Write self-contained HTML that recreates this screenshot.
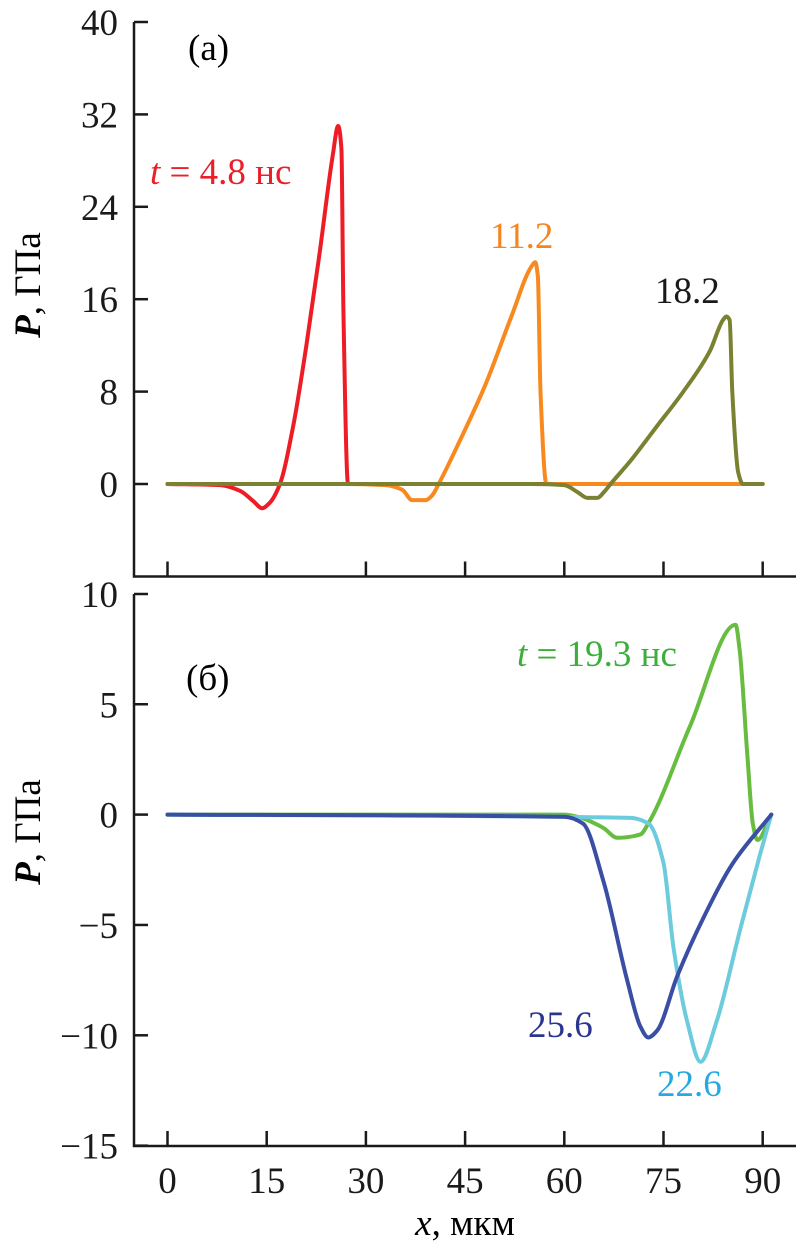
<!DOCTYPE html>
<html><head><meta charset="utf-8"><style>
body{margin:0;background:#fff;}
svg{display:block;}
text{font-family:"Liberation Serif","DejaVu Serif",serif;}
</style></head><body>
<svg id="chart" width="796" height="1245" viewBox="0 0 796 1245" font-family="Liberation Serif, DejaVu Serif, serif">
<g id="axes"></g>
<g id="series"></g>
<g id="labels" font-size="37">
<text x="188" y="60">(a)</text>
<text x="186" y="690">(б)</text>
<text x="150" y="184" fill="#e8202a"><tspan font-style="italic">t</tspan> = 4.8 нс</text>
<text x="490" y="248" fill="#f5861f">11.2</text>
<text x="655" y="303" fill="#1a1a1a">18.2</text>
<text x="517" y="666" fill="#3cae3c"><tspan font-style="italic">t</tspan> = 19.3 нс</text>
<text x="528" y="1037" fill="#2a3590">25.6</text>
<text x="657" y="1096" fill="#26a9e0">22.6</text>
<text transform="translate(40,285) rotate(-90)" text-anchor="middle"><tspan font-weight="bold" font-style="italic">P</tspan>, ГПа</text>
<text transform="translate(40,832) rotate(-90)" text-anchor="middle"><tspan font-weight="bold" font-style="italic">P</tspan>, ГПа</text>
<text x="465" y="1235" text-anchor="middle"><tspan font-style="italic">x</tspan>, мкм</text>
</g>
</svg>
<script>
const xTicks=[0,15,30,45,60,75,90];
const yTicksA=[0,8,16,24,32,40];
const yTicksB=[-15,-10,-5,0,5,10];
const xA=[0,8,11,13,14.3,15.5,17,19,21,23,25,25.8,26.3,26.6,27.3,30,50,62];
const pA48=[0,-0.1,-0.6,-1.5,-2.1,-1.6,0,5,12,20,28.5,31,29,15,0,0,0,0];
const xB=[0,27,33,35.5,37,39,40,41,44,48,52,55,55.6,56,56.4,57.3,60,90];
const pB112=[0,0,-0.1,-0.5,-1.4,-1.4,-1,0,3.5,8.5,14.5,18.8,19.2,18,8,0,0,0];
const xC=[0,55,60,62,63.5,65,66,67,70,74,78,82,84,84.5,85,85.4,86.3,87,90];
const pC182=[0,0,-0.1,-0.7,-1.2,-1.2,-0.7,0,2,5,8,11.5,14.2,14.5,14.2,8,1,0,0];
const xD=[0,60,62,65.9,68,71.5,72.7,79,85.9,86.5,87.7,88.5,89.2,91.3];
const pD193=[0,0,-0.1,-0.6,-1.05,-0.9,-0.4,4,8.6,7.5,2.6,-0.4,-1.15,0];
const xE=[0,70,72.7,75,76.5,78.6,80.6,83,86.6,89.6,91.3];
const pE226=[0,-0.15,-0.4,-2.2,-6,-9.4,-11.2,-9.4,-5.2,-1.8,0];
const xF=[0,60,62.8,65.9,69.5,71.5,72.7,74,77.1,81,85.5,91.3];
const pF256=[0,-0.1,-0.4,-3,-7.5,-9.6,-10.1,-9.8,-7.3,-4.7,-2.2,0];

const NS='http://www.w3.org/2000/svg';
const sx=v=>167.5+v*(762.7-167.5)/90;
const syA=v=>484-v*11.55;
const syB=v=>814.6-v*22.07;
const axes=document.getElementById('axes'), ser=document.getElementById('series');
function mk(tag,attrs,parent){const e=document.createElementNS(NS,tag);for(const k in attrs)e.setAttribute(k,attrs[k]);parent.appendChild(e);return e;}
let l=mk('path',{d:`M134 ${syA(40)} V576.5 H796`,fill:'none',stroke:'#1a1a1a','stroke-width':2.5},axes);


l=mk('path',{d:`M134 594 V1146 H796`,fill:'none',stroke:'#1a1a1a','stroke-width':2.5},axes);


yTicksA.forEach(v=>{
  let t=mk('line',{x1:134,x2:148,y1:syA(v),y2:syA(v),stroke:'#1a1a1a','stroke-width':2.5},axes);
  
  
  let tx=mk('text',{x:118,y:syA(v)+13,'text-anchor':'end','font-size':37,fill:'#1a1a1a'},axes);
  tx.textContent=v;
  
  
});
yTicksB.forEach(v=>{
  let y=v===10?594:syB(v);
  let t=mk('line',{x1:134,x2:148,y1:y,y2:y,stroke:'#1a1a1a','stroke-width':2.5},axes);
  
  
  let tx=mk('text',{x:118,y:y+13,'text-anchor':'end','font-size':37,fill:'#1a1a1a'},axes);
  tx.textContent=v<0?'\u2212'+(-v):v;
  
  
});
xTicks.forEach(v=>{
  [576.5,1146].forEach(yb=>{
    let t=mk('line',{x1:sx(v),x2:sx(v),y1:yb,y2:yb-15,stroke:'#1a1a1a','stroke-width':2.5},axes);
    
    
  });
  let tx=mk('text',{x:sx(v),y:1193,'text-anchor':'middle','font-size':37,fill:'#1a1a1a'},axes);
  tx.textContent=v;
  
  
});
// monotone cubic (no overshoot)
function monotone(pts){
  const n=pts.length,dx=[],m=[],t=[];
  for(let i=0;i<n-1;i++){dx[i]=pts[i+1][0]-pts[i][0];m[i]=(pts[i+1][1]-pts[i][1])/dx[i];}
  t[0]=m[0];t[n-1]=m[n-2];
  for(let i=1;i<n-1;i++){
    if(m[i-1]*m[i]<=0)t[i]=0;
    else{const w1=2*dx[i]+dx[i-1],w2=dx[i]+2*dx[i-1];t[i]=(w1+w2)/(w1/m[i-1]+w2/m[i]);}
  }
  let d=`M${pts[0][0]},${pts[0][1]}`;
  for(let i=0;i<n-1;i++){
    const h=dx[i]/3;
    d+=` C${pts[i][0]+h},${pts[i][1]+t[i]*h} ${pts[i+1][0]-h},${pts[i+1][1]-t[i+1]*h} ${pts[i+1][0]},${pts[i+1][1]}`;
  }
  return d;
}
function curve(xs,ps,sy,color,name){
  const pts=xs.map((x,i)=>[sx(x),sy(ps[i])]);
  const p=mk('path',{d:monotone(pts),fill:'none',stroke:color,'stroke-width':4,'stroke-linejoin':'round','stroke-linecap':'round'},ser);
  
  
}
curve(xA,pA48,syA,'#ee1c25','curve-t4.8');
curve(xB,pB112,syA,'#f7891f','curve-t11.2');
curve(xC,pC182,syA,'#7a8130','curve-t18.2');
curve(xD,pD193,syB,'#67bd3f','curve-t19.3');
curve(xE,pE226,syB,'#6ccbdc','curve-t22.6');
curve(xF,pF256,syB,'#3a4ea3','curve-t25.6');
</script>
</body></html>
